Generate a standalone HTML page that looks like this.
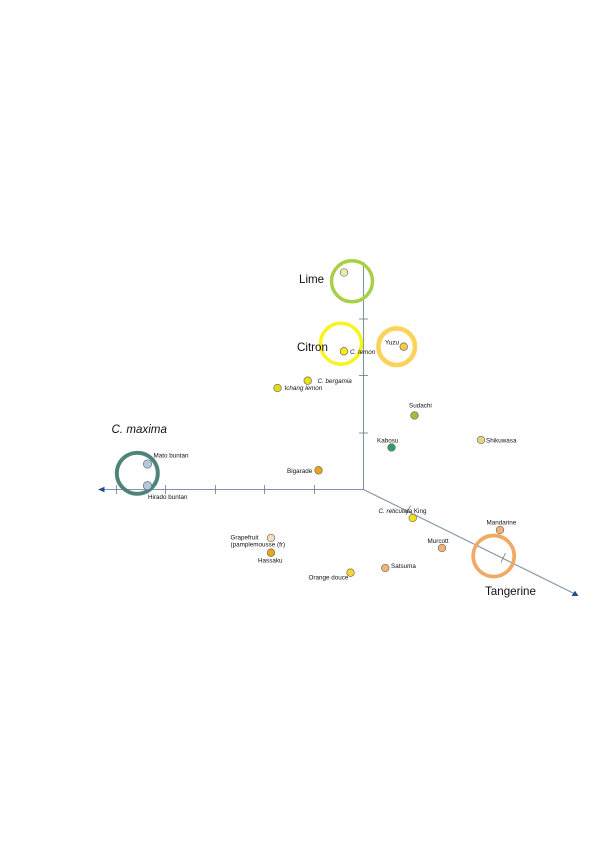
<!DOCTYPE html>
<html>
<head>
<meta charset="utf-8">
<style>
html,body{margin:0;padding:0;background:#fff;width:600px;height:849px;overflow:hidden}
svg{display:block;filter:blur(.35px)}
text{font-family:"Liberation Sans",sans-serif;fill:#111}
.s{font-size:6.3px}
.b{font-size:11.6px}
.d{stroke:#6f6f5f;stroke-width:.7}
</style>
</head>
<body>
<svg width="600" height="849" viewBox="0 0 600 849" xmlns="http://www.w3.org/2000/svg">
<rect width="600" height="849" fill="#fff"/>
<g stroke="#7f94a8" stroke-width="1.100" fill="none">
<line x1="363.500" y1="262" x2="363.500" y2="490"/>
<line x1="102" y1="489.500" x2="363.500" y2="489.500"/>
<line x1="363.500" y1="489.500" x2="574" y2="593.500"/>
</g>
<g stroke="#6c7a80" stroke-width=".8" fill="none">
<line x1="116.500" y1="485" x2="116.500" y2="494"/>
<line x1="165.500" y1="485" x2="165.500" y2="494"/>
<line x1="215.500" y1="485" x2="215.500" y2="494"/>
<line x1="264.500" y1="485" x2="264.500" y2="494"/>
<line x1="314.500" y1="485" x2="314.500" y2="494"/>
<line x1="359" y1="319" x2="368" y2="319"/>
<line x1="359" y1="375.500" x2="368" y2="375.500"/>
<line x1="359" y1="433" x2="368" y2="433"/>
<line x1="359" y1="263" x2="364" y2="263"/>
<line x1="410.500" y1="505.500" x2="406" y2="515"/>
<line x1="505.500" y1="553" x2="501" y2="562.500"/>
</g>
<polygon points="98,489.500 104.500,486.800 104.500,492.200" fill="#1f4e8c"/>
<polygon points="578.500,596 571.500,596 575,590.800" fill="#1f4e8c"/>
<g fill="none">
<circle cx="137.300" cy="473.300" r="20.500" stroke="#4d8479" stroke-width="3.900"/>
<circle cx="352" cy="281.300" r="20.500" stroke="#a8cf45" stroke-width="3.500"/>
<circle cx="341" cy="343.700" r="20.500" stroke="#f8f41f" stroke-width="3.500"/>
<circle cx="396.700" cy="346.700" r="18.300" stroke="#fbd35a" stroke-width="4.600"/>
<circle cx="493.700" cy="556" r="20.500" stroke="#f0aa66" stroke-width="3.700"/>
</g>
<g class="d">
<circle cx="147.500" cy="464" r="4.200" fill="#b4c7e2"/>
<circle cx="147.500" cy="485.700" r="4.200" fill="#b4c7e2"/>
<circle cx="344" cy="272.500" r="3.800" fill="#edeab0"/>
<circle cx="344" cy="351.300" r="3.800" fill="#f7e91d"/>
<circle cx="403.700" cy="346.700" r="3.800" fill="#f7c94b"/>
<circle cx="307.700" cy="380.700" r="3.800" fill="#e9e019"/>
<circle cx="277.500" cy="388" r="3.800" fill="#e0dc18"/>
<circle cx="414.500" cy="415.500" r="3.800" fill="#a9b93e"/>
<circle cx="391.500" cy="447.500" r="3.800" fill="#2e9c6a"/>
<circle cx="481" cy="440" r="3.800" fill="#e2d58a"/>
<circle cx="318.500" cy="470.300" r="3.800" fill="#eaa519"/>
<circle cx="271" cy="538" r="3.800" fill="#f6dcc0"/>
<circle cx="271" cy="552.700" r="3.800" fill="#e8a818"/>
<circle cx="350.500" cy="572.700" r="3.800" fill="#f8d33a"/>
<circle cx="385.300" cy="568" r="3.800" fill="#f3b27a"/>
<circle cx="412.700" cy="518" r="3.800" fill="#f3e01c"/>
<circle cx="442" cy="548" r="3.800" fill="#f3b27a"/>
<circle cx="500" cy="530" r="3.800" fill="#f3b27a"/>
</g>
<text class="b" x="111.500" y="433" font-style="italic">C. maxima</text>
<text class="b" x="299" y="283">Lime</text>
<text class="b" x="297" y="351">Citron</text>
<text class="b" x="485" y="595">Tangerine</text>
<text class="s" x="153.500" y="457.500">Mato buntan</text>
<text class="s" x="148" y="499">Hirado buntan</text>
<text class="s" x="350" y="354" font-style="italic">C. lemon</text>
<text class="s" x="385" y="344.500">Yuzu</text>
<text class="s" x="317.500" y="383" font-style="italic">C. bergamia</text>
<text class="s" x="284.500" y="390" font-style="italic">Ichang lemon</text>
<text class="s" x="409" y="407.500">Sudachi</text>
<text class="s" x="377" y="442.500">Kabosu</text>
<text class="s" x="486" y="442.500">Shikuwasa</text>
<text class="s" x="287" y="473">Bigarade</text>
<text class="s" x="378.500" y="513" font-style="italic">C. reticulata <tspan font-style="normal">King</tspan></text>
<text class="s" x="486.500" y="524.500">Mandarine</text>
<text class="s" x="427.500" y="543">Murcott</text>
<text class="s" x="391" y="568">Satsuma</text>
<text class="s" x="308.500" y="579.500">Orange douce</text>
<text class="s" x="230.500" y="539.500">Grapefruit</text>
<text class="s" x="230.500" y="546.500">(pamplemousse (fr)</text>
<text class="s" x="258" y="562.500">Hassaku</text>
</svg>
</body>
</html>
